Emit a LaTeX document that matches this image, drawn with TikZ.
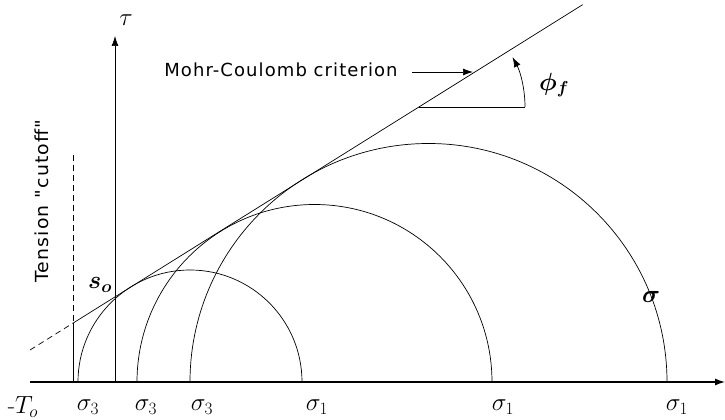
\documentclass[tikz,border=0pt]{standalone}
\usepackage{amsmath}
\usepackage{fontspec}
\newfontfamily\labelsans[LetterSpace=6]{DejaVu Sans}
\usetikzlibrary{arrows.meta,calc}
\begin{document}
\begin{tikzpicture}[x=1pt,y=1pt,
  thinline/.style={line width=0.7pt},
  axisline/.style={line width=1.2pt},
  dashline/.style={line width=0.7pt,dash pattern=on 6pt off 4pt},
  tip/.style={-{Latex[length=10pt,width=7pt]}},
  mathlbl/.style={inner sep=0pt,font=\fontsize{24}{26}\selectfont},
  sanslbl/.style={inner sep=0pt,font=\labelsans\fontsize{18}{20}\selectfont}]
\useasboundingbox (0,0) rectangle (725,420);
% geometry
\coordinate (O) at (-21.2,38);
\coordinate (axL) at (30,38);
\coordinate (axR) at (725,38);
\coordinate (tauB) at (115,38);
\coordinate (tauT) at (115,384);
\coordinate (cutT) at (73,265);
\coordinate (cutM) at ($(O)+(32:111.1)$);
\coordinate (cutB) at (73,38);
\coordinate (mcA) at ($(O)+(32:60.4)$);
\coordinate (mcE) at ($(O)+(32:712)$);
\coordinate (so) at ($(O)+(32:160.6)$);
% axes
\draw[axisline,tip] (axL) -- (axR);
\draw[thinline,tip] (tauB) -- (tauT);
% tension cutoff
\draw[dashline] (cutT) -- (73,97);
\draw[thinline] (73,97) -- (cutB);
% Mohr-Coulomb envelope
\draw[dashline] (mcA) -- (cutM);
\draw[thinline] (cutM) -- (mcE);
% Mohr circles
\draw[thinline] (302,38) arc[start angle=0,end angle=180,radius=112];
\draw[thinline] (492,38) arc[start angle=0,end angle=180,radius=177.5];
\draw[thinline] (667,38) arc[start angle=0,end angle=180,radius=238.5];
% friction angle
\coordinate (vx) at (418.9,313);
\coordinate (hx) at (525,313);
\draw[thinline] (vx) -- (hx);
\draw[thinline,tip] (hx) arc[start angle=0,end angle=28,radius=106.1];
% Mohr-Coulomb label and arrow
\node[sanslbl] (mclbl) at (281,350) {Mohr-Coulomb criterion};
\coordinate (mcS) at (412,348);
\coordinate (mcT) at (473,348);
\draw[thinline,tip] (mcS) -- (mcT);
% labels
\node[mathlbl] (tau) at (126,400) {$\tau$};
\node[mathlbl] (phi) at (554,335) {$\boldsymbol{\phi_{f}}$};
\node[mathlbl] (sig) at (651,123) {$\boldsymbol{\sigma}$};
\node[mathlbl] (solbl) at (100,135) {$\boldsymbol{s_{o}}$};
\node[sanslbl,rotate=90] (tens) at (42,219) {\scalebox{1.05}[1]{Tension "cutoff"}};
\node[mathlbl] (To) at (23,13) {-$T_{o}$};
\node[mathlbl] (s3a) at (88,13) {$\sigma_3$};
\node[mathlbl] (s3b) at (146,13) {$\sigma_3$};
\node[mathlbl] (s3c) at (202,13) {$\sigma_3$};
\node[mathlbl] (s1a) at (317,13) {$\sigma_1$};
\node[mathlbl] (s1b) at (503,13) {$\sigma_1$};
\node[mathlbl] (s1c) at (677,13) {$\sigma_1$};
\end{tikzpicture}
\end{document}
